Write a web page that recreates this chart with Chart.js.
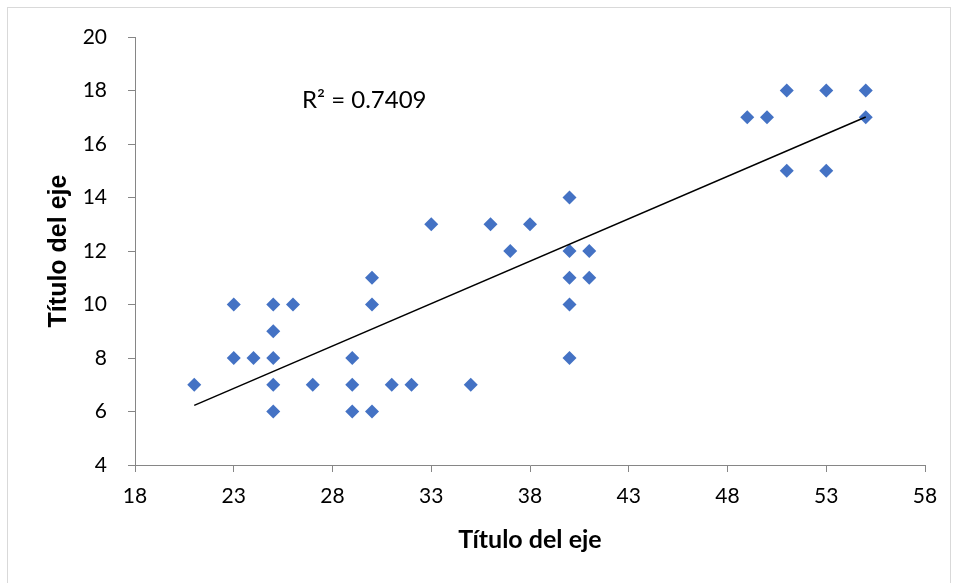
<!DOCTYPE html>
<html>
<head>
<meta charset="utf-8">
<script src="https://cdn.jsdelivr.net/npm/chart.js@4"></script>
<style>
  html, body { margin: 0; padding: 0; background: #fff; }
  canvas { display: block; }
</style>
</head>
<body>
<canvas id="chart" width="955" height="583"></canvas>
<script>
// data
var xValues = [21, 23, 23, 24, 25, 25, 25, 25, 25, 26, 27, 29, 29, 29, 30, 30, 30, 31, 32, 33,
               35, 36, 37, 38, 40, 40, 40, 40, 40, 41, 41, 49, 50, 51, 51, 53, 53, 55, 55];
var yValues = [7, 10, 8, 8, 10, 9, 8, 7, 6, 10, 7, 8, 7, 6, 11, 10, 6, 7, 7, 13,
               7, 13, 12, 13, 14, 12, 11, 10, 8, 12, 11, 17, 17, 18, 15, 18, 15, 18, 17];
var xTicks = [18, 23, 28, 33, 38, 43, 48, 53, 58];
var yTicks = [4, 6, 8, 10, 12, 14, 16, 18, 20];
var axisTitle = 'Título del eje';
var r2Label = 'R² = 0.7409';

var points = xValues.map(function(x, i) { return { x: x, y: yValues[i] }; });

// linear trendline (least squares, like the spreadsheet's)
var n = xValues.length, sx = 0, sy = 0, sxx = 0, sxy = 0;
for (var i = 0; i < n; i++) {
  sx += xValues[i]; sy += yValues[i];
  sxx += xValues[i] * xValues[i]; sxy += xValues[i] * yValues[i];
}
var slope = (n * sxy - sx * sy) / (n * sxx - sx * sx);
var intercept = (sy - slope * sx) / n;
var xMin = Math.min.apply(null, xValues), xMax = Math.max.apply(null, xValues);
var trend = [
  { x: xMin, y: intercept + slope * xMin },
  { x: xMax, y: intercept + slope * xMax }
];

var FONT = 'Lato, "Open Sans", sans-serif';

var frame = {
  id: 'frame',
  beforeDraw: function(chart) {
    var c = chart.ctx;
    c.save();
    c.fillStyle = '#fff';
    c.fillRect(0, 0, chart.width, chart.height);
    c.strokeStyle = '#d9d9d9';
    c.lineWidth = 1;
    c.strokeRect(7.5, 7.5, 943, 590);
    c.restore();
  },
  afterDraw: function(chart) {
    var c = chart.ctx;
    c.save();
    c.fillStyle = '#000';
    c.font = '24px ' + FONT;
    c.textBaseline = 'middle';
    c.fillText(r2Label, 302, 100);
    c.restore();
  }
};

var tickFont = { family: FONT, size: 21 };

new Chart(document.getElementById('chart').getContext('2d'), {
  type: 'scatter',
  data: {
    datasets: [
      {
        type: 'line',
        label: 'trend',
        data: trend,
        borderColor: '#000',
        borderWidth: 1.5,
        pointRadius: 0,
        fill: false,
        order: 0
      },
      {
        label: 'datos',
        data: points,
        pointStyle: 'rectRot',
        pointRadius: 7,
        pointHoverRadius: 7,
        backgroundColor: '#4472C4',
        borderColor: '#4472C4',
        borderWidth: 0,
        order: 1
      }
    ]
  },
  options: {
    responsive: false,
    animation: false,
    devicePixelRatio: 1,
    layout: { padding: { left: 44, top: 37, right: 30, bottom: 28 } },
    plugins: { legend: { display: false }, tooltip: { enabled: false } },
    scales: {
      x: {
        type: 'linear',
        min: 18, max: 58,
        afterBuildTicks: function(s) { s.ticks = xTicks.map(function(v) { return { value: v }; }); },
        afterFit: function(s) { s.height = 583 - 28 - 465; },
        grid: { drawOnChartArea: false, drawTicks: true, tickLength: 7, color: '#868686' },
        border: { display: true, color: '#868686', width: 1 },
        ticks: { font: tickFont, color: '#000', padding: 12 },
        title: { display: true, text: axisTitle, font: { family: FONT, size: 25, weight: 'bold' },
                 color: '#000', padding: { top: 0, bottom: 0 } }
      },
      y: {
        type: 'linear',
        min: 4, max: 20,
        afterBuildTicks: function(s) { s.ticks = yTicks.map(function(v) { return { value: v }; }); },
        afterFit: function(s) { s.width = 135 - 44; },
        grid: { drawOnChartArea: false, drawTicks: true, tickLength: 7, color: '#868686' },
        border: { display: true, color: '#868686', width: 1 },
        ticks: { font: tickFont, color: '#000', padding: 21 },
        title: { display: true, text: axisTitle,
                 font: { family: '"Liberation Sans", Arial, sans-serif', size: 25, weight: 'bold' },
                 color: '#000', padding: { top: 0, bottom: 0 } }
      }
    }
  },
  plugins: [frame]
});
</script>
</body>
</html>
